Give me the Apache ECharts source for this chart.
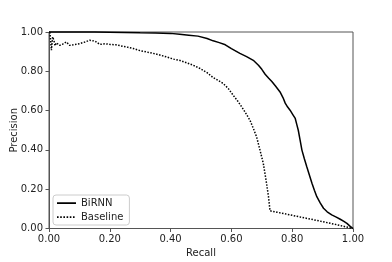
<!DOCTYPE html>
<html><head><meta charset="utf-8">
<script src="https://cdn.jsdelivr.net/npm/echarts@6/dist/echarts.min.js"></script>
<style>html,body{margin:0;padding:0;background:#fff}#c{width:392px;height:262px}</style>
</head><body><div id="c"></div>
<script>
var xTicks = [0, 0.2, 0.4, 0.6, 0.8, 1.0];
var yTicks = [0, 0.2, 0.4, 0.6, 0.8, 1.0];
var seriesNames = ['BiRNN', 'Baseline'];
var birnnRecall = [0, 0.05, 0.1, 0.15, 0.2, 0.25, 0.3, 0.35, 0.4, 0.43, 0.46, 0.49, 0.52, 0.54, 0.56, 0.58, 0.6, 0.628, 0.65, 0.672, 0.689, 0.70, 0.711, 0.722, 0.733, 0.745, 0.760, 0.770, 0.777, 0.785, 0.793, 0.802, 0.810, 0.815, 0.820, 0.826, 0.832, 0.840, 0.848, 0.857, 0.865, 0.873, 0.881, 0.892, 0.903, 0.915, 0.930, 0.945, 0.958, 0.970, 0.980, 0.990, 1.0];
var birnnPrecision = [1.0, 1.0, 1.0, 1.0, 0.999, 0.998, 0.996, 0.995, 0.993, 0.989, 0.984, 0.979, 0.967, 0.955, 0.946, 0.935, 0.915, 0.891, 0.875, 0.856, 0.831, 0.810, 0.785, 0.766, 0.748, 0.725, 0.695, 0.665, 0.638, 0.618, 0.602, 0.580, 0.560, 0.530, 0.500, 0.450, 0.399, 0.355, 0.314, 0.270, 0.230, 0.195, 0.162, 0.130, 0.103, 0.085, 0.069, 0.058, 0.047, 0.036, 0.026, 0.012, 0.0];
var baselineRecall = [0.003, 0.005, 0.008, 0.012, 0.016, 0.020, 0.024, 0.030, 0.035, 0.045, 0.057, 0.068, 0.080, 0.101, 0.12, 0.134, 0.151, 0.167, 0.185, 0.2, 0.22, 0.244, 0.26, 0.277, 0.30, 0.332, 0.36, 0.387, 0.41, 0.431, 0.45, 0.474, 0.497, 0.52, 0.54, 0.555, 0.573, 0.59, 0.606, 0.62, 0.634, 0.648, 0.661, 0.672, 0.683, 0.694, 0.705, 0.714, 0.722, 0.727, 0.75, 0.8, 0.85, 0.9, 0.95, 1.0];
var baselinePrecision = [1.0, 0.992, 0.907, 0.975, 0.958, 0.93, 0.945, 0.94, 0.932, 0.938, 0.949, 0.932, 0.935, 0.941, 0.95, 0.958, 0.954, 0.937, 0.94, 0.937, 0.935, 0.927, 0.922, 0.916, 0.905, 0.895, 0.885, 0.873, 0.862, 0.855, 0.845, 0.831, 0.814, 0.793, 0.768, 0.755, 0.738, 0.712, 0.678, 0.650, 0.619, 0.585, 0.551, 0.51, 0.466, 0.399, 0.331, 0.246, 0.162, 0.090, 0.083, 0.067, 0.051, 0.035, 0.018, 0.0];

function pairs(xs, ys){ return xs.map(function(x,i){ return [x, ys[i]]; }); }
var font = 'DejaVu Sans';
var chart = echarts.init(document.getElementById('c'), null, {renderer:'canvas'});
var axisCommon = {
  type:'value', min:0, max:1, interval:0.2,
  axisLine:{show:true, lineStyle:{color:'#555', width:1}},
  axisTick:{show:true, inside:false, length:3.5, lineStyle:{color:'#555', width:1}},
  splitLine:{show:false},
  axisLabel:{fontFamily:font, fontSize:10, color:'#222', margin:6, formatter:function(v){return v.toFixed(2);}},
  nameLocation:'middle', nameMoveOverlap:false,
  nameTextStyle:{fontFamily:font, fontSize:10, color:'#222'}
};
var dots = 'path://M0,4.3h1.6v1.6h-1.6z M3.2,4.3h1.6v1.6h-1.6z M6.4,4.3h1.6v1.6h-1.6z M9.6,4.3h1.6v1.6h-1.6z M12.8,4.3h1.6v1.6h-1.6z M16,4.3h1.6v1.6h-1.6z M0,0h0.01v0.01h-0.01z M0,10h0.01v0.01h-0.01z M19,0h0.01v0.01h-0.01z';
var solid = 'path://M0,4.3L19,4.3L19,5.9L0,5.9Z M0,0h0.01v0.01h-0.01z M0,10h0.01v0.01h-0.01z';
chart.setOption({
  animation:false,
  grid:{left:49, right:39, top:32, bottom:33.5, outerBoundsMode:'none', containLabel:false,
        show:true, borderColor:'#555', borderWidth:1, backgroundColor:'transparent'},
  xAxis: Object.assign({}, axisCommon, {name:'Recall', nameGap:20}),
  yAxis: Object.assign({}, axisCommon, {name:'Precision', nameGap:30}),
  legend:{
    orient:'vertical', left:53, top:195, itemWidth:19, itemHeight:10, itemGap:4,
    padding:[3,6,3,4], borderColor:'#ccc', borderWidth:1, borderRadius:3, backgroundColor:'#fff',
    textStyle:{fontFamily:font, fontSize:10, color:'#222'},
    data:[{name:seriesNames[0], icon:solid, itemStyle:{color:'#000'}}, {name:seriesNames[1], icon:dots, itemStyle:{color:'#000'}}]
  },
  series:[
    {name:seriesNames[0], type:'line', data:pairs(birnnRecall, birnnPrecision), symbol:'none', clip:false,
     lineStyle:{color:'#000', width:1.5, type:'solid'}, itemStyle:{color:'#000'}, z:3},
    {name:seriesNames[1], type:'line', data:pairs(baselineRecall, baselinePrecision), symbol:'none', clip:false,
     lineStyle:{color:'#000', width:1.5, type:[1.5,1.5]}, itemStyle:{color:'#000'}, z:2}
  ]
});
</script></body></html>
